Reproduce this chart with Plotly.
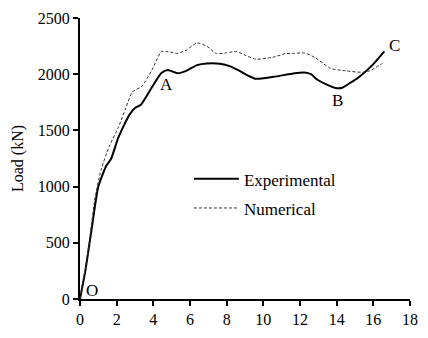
import plotly.graph_objects as go

exp_x = [0, 0.3, 0.65, 1.0, 1.45, 1.69, 2.1, 2.7, 3.0, 3.3, 3.8, 4.44, 4.79, 5.32, 5.8, 6.39, 6.92, 7.63, 8.2, 8.7, 9.2, 9.58, 10.5, 11.2, 11.7, 12.25, 12.6, 12.95, 13.5, 13.93, 14.3, 14.73, 15.1, 15.53, 16.0, 16.6]
exp_y = [0, 260, 640, 1000, 1190, 1245, 1440, 1640, 1700, 1725, 1850, 2010, 2037, 2009, 2030, 2081, 2095, 2093, 2070, 2030, 1985, 1959, 1975, 1994, 2009, 2015, 2000, 1951, 1905, 1878, 1880, 1922, 1960, 2017, 2090, 2203]

num_x = [0, 0.3, 0.55, 0.8, 1.15, 1.6, 2.1, 2.5, 2.85, 3.37, 3.9, 4.44, 4.8, 5.32, 5.8, 6.39, 6.9, 7.45, 8.0, 8.52, 9.0, 9.58, 10.5, 11.2, 11.7, 12.25, 12.8, 13.67, 14.5, 15.44, 15.8, 16.5]
num_y = [0, 280, 560, 880, 1150, 1360, 1530, 1700, 1840, 1893, 2030, 2200, 2200, 2185, 2215, 2278, 2250, 2183, 2190, 2203, 2170, 2134, 2150, 2183, 2185, 2189, 2150, 2052, 2030, 2017, 2030, 2096]

labels = ["O", "A", "B", "C"]
label_x = [0.64, 4.7, 14.05, 17.16]
label_y = [80, 1910, 1765, 2255]

font_family = "Liberation Serif, Times New Roman, serif"

fig = go.Figure()
fig.add_trace(go.Scatter(x=exp_x, y=exp_y, mode="lines", name="Experimental", legendgroup="e",
                         line=dict(color="black", width=2, shape="spline", smoothing=0.6)))
fig.add_trace(go.Scatter(x=num_x, y=num_y, mode="lines", name="Numerical", legendgroup="n",
                         line=dict(color="#333333", width=1, dash="3px,2px", shape="spline", smoothing=0.6)))

for t, x, y in zip(labels, label_x, label_y):
    fig.add_annotation(x=x, y=y, text=t, showarrow=False,
                       font=dict(family=font_family, size=17, color="black"))

fig.update_layout(
    width=428, height=338,
    margin=dict(l=80, r=10, t=17, b=32),
    paper_bgcolor="white", plot_bgcolor="white",
    font=dict(family=font_family, size=16, color="black"),
    showlegend=True,
    legend=dict(x=0.33, y=0.49, xanchor="left", yanchor="top", itemwidth=45,
                traceorder="grouped", tracegroupgap=4,
                bgcolor="rgba(0,0,0,0)", font=dict(size=17, family=font_family)),
    xaxis=dict(range=[0, 18], tickvals=list(range(0, 19, 2)), showgrid=False, zeroline=False,
               showline=True, linecolor="black", linewidth=2, ticks="outside",
               ticklen=5, tickwidth=2, tickcolor="black", tickfont=dict(size=16)),
    yaxis=dict(range=[0, 2500], tickvals=list(range(0, 2501, 500)), showgrid=False, zeroline=False,
               showline=True, linecolor="black", linewidth=2, ticks="outside",
               ticklen=5, tickwidth=2, tickcolor="black", tickfont=dict(size=16),
               title=dict(text="Load (kN)", font=dict(size=16), standoff=10)),
)

fig.write_html("out.html")
